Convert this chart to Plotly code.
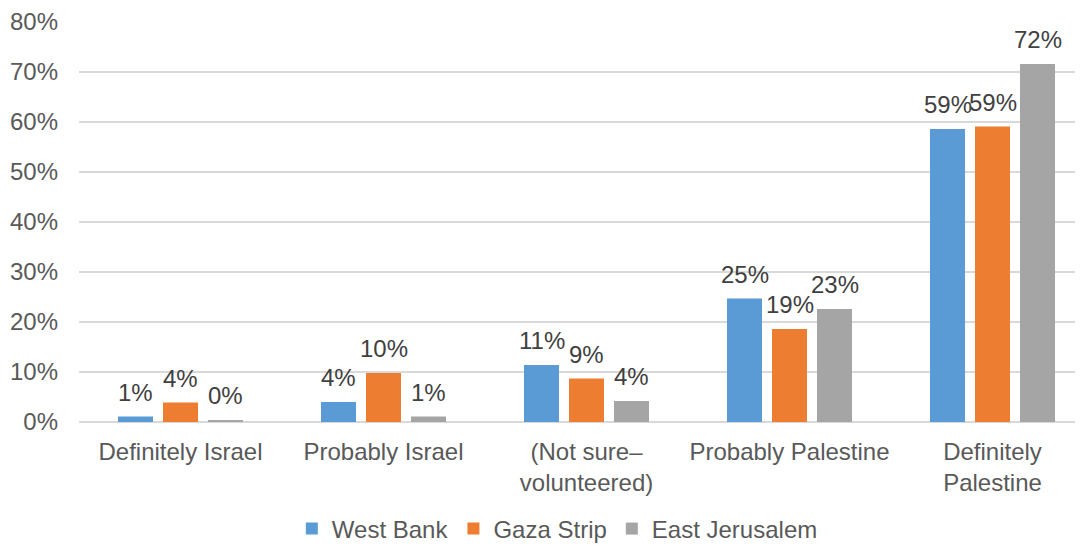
import plotly.graph_objects as go

categories = ["Definitely Israel", "Probably Israel", "(Not sure–<br>volunteered)",
              "Probably Palestine", "Definitely<br>Palestine"]
series_names = ["West Bank", "Gaza Strip", "East Jerusalem"]
west_bank = [1.1, 4.0, 11.4, 24.7, 58.6]
gaza_strip = [3.9, 9.8, 8.7, 18.6, 59.1]
east_jerusalem = [0.4, 1.1, 4.2, 22.6, 71.6]
colors = ["#5B9BD5", "#ED7D31", "#A5A5A5"]
y_ticks = [0, 10, 20, 30, 40, 50, 60, 70, 80]

FONT = "Liberation Sans, Arial, sans-serif"
FS = 24
BARGAP = 0.335
BARGROUPGAP = 0.222

series = [west_bank, gaza_strip, east_jerusalem]
xidx = list(range(len(categories)))

fig = go.Figure()
for name, vals, col in zip(series_names, series, colors):
    fig.add_trace(go.Bar(x=xidx, y=vals, name=name, marker=dict(color=col, line=dict(width=0))))

slot = (1 - BARGAP) / len(series)
annotations = []
for si, vals in enumerate(series):
    off = (si - 1) * slot
    for ci, v in enumerate(vals):
        annotations.append(dict(
            x=ci + off, y=v, xref="x", yref="y", text=f"{round(v)}%",
            showarrow=False, yanchor="bottom", xanchor="center", yshift=9,
            font=dict(family=FONT, size=FS, color="#404040")))

# page has an 8px body margin, so the figure is sized to fill the rest of the window
fig.update_layout(
    width=1075, height=538,
    margin=dict(l=71, r=0, t=14, b=124, autoexpand=False),
    paper_bgcolor="white", plot_bgcolor="white",
    barmode="group", bargap=BARGAP, bargroupgap=BARGROUPGAP,
    font=dict(family=FONT, size=FS, color="#595959"),
    annotations=annotations,
    showlegend=True,
    legend=dict(orientation="h", xref="container", yref="container",
                x=0.511, xanchor="center", y=0.0316, yanchor="middle",
                font=dict(family=FONT, size=FS, color="#595959"),
                itemclick=False, traceorder="normal"),
)
fig.update_xaxes(
    tickmode="array", tickvals=xidx, ticktext=categories,
    range=[-0.5, 4.5 - 11 / 203], showgrid=False, zeroline=False,
    showline=False, ticks="", ticklabelstandoff=13, automargin=False,
    tickfont=dict(family=FONT, size=FS, color="#595959"),
)
fig.update_yaxes(
    range=[0, 80], tickmode="array", tickvals=y_ticks,
    ticktext=[f"{t}%" for t in y_ticks],
    showgrid=True, gridcolor="#D9D9D9", gridwidth=1.5,
    zeroline=True, zerolinecolor="#D9D9D9", zerolinewidth=1.5,
    showline=False, ticks="", ticklabelstandoff=20, automargin=False,
    tickfont=dict(family=FONT, size=FS, color="#595959"),
)

fig.write_html("out.html")
